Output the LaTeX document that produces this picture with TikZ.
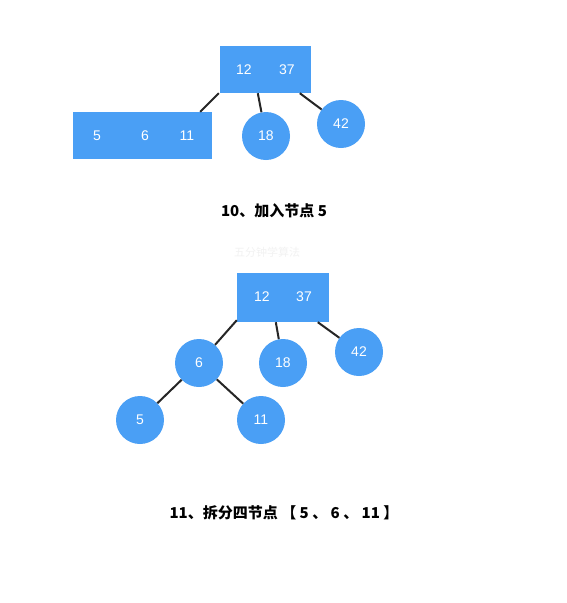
\documentclass[tikz,border=0pt]{standalone}
\usepackage{fontspec}
\setmainfont{Liberation Sans}
\newfontfamily\cjk{Noto Sans CJK SC}
\usetikzlibrary{calc}
\definecolor{nodeblue}{RGB}{74,159,245}
\begin{document}
\begin{tikzpicture}[x=1pt,y=-1pt,
  keybox/.style={fill=nodeblue,draw=none,inner sep=0pt},
  keycirc/.style={circle,fill=nodeblue,draw=none,minimum size=48pt,inner sep=0pt,text=white,font=\fontsize{14}{14}\selectfont},
  keytext/.style={text=white,font=\fontsize{14}{14}\selectfont,inner sep=0pt},
  edge/.style={line width=2pt,draw=black!85},
  caption/.style={font=\cjk\bfseries\fontsize{15}{15}\selectfont,inner sep=0pt},
  wmark/.style={font=\cjk\fontsize{11}{11}\selectfont,text=black!5,inner sep=0pt}]
\useasboundingbox[fill=white] (0,0) rectangle (567,603);
% ---------- step 10 ----------
\node[keybox,minimum width=91pt,minimum height=47pt] (ta) at (265.5,69.5) {};
\node[keytext] (ta1) at (244,70) {12};
\node[keytext] (ta2) at (287,70) {37};
\node[keybox,minimum width=139pt,minimum height=47pt] (tb) at (142.5,135.5) {};
\node[keytext] (tb1) at (97,136) {5};
\node[keytext] (tb2) at (145,136) {6};
\node[keytext] (tb3) at (187,136) {11};
\node[keycirc] (t18) at (266,136) {18};
\node[keycirc] (t42) at (341,124) {42};
\coordinate (tap) at ($(ta.south west)+(-1,0)$);
\coordinate (tbp) at ($(tb.north east)+(-12,0)$);
\coordinate (taq) at ($(ta.south west)+(38,0)$);
\coordinate (tar) at ($(ta.south west)+(80,0)$);
\draw[edge] (tap) -- (tbp);
\draw[edge] (taq) -- (t18);
\draw[edge] (tar) -- (t42);
\node[caption] (cap1) at (274,211) {10、加入节点 5};
\node[wmark] (wm) at (267,252) {五分钟学算法};
% ---------- step 11 ----------
\node[keybox,minimum width=92pt,minimum height=49pt] (ba) at (283,297.5) {};
\node[keytext] (ba1) at (262,297) {12};
\node[keytext] (ba2) at (304,297) {37};
\node[keycirc] (b6) at (199,363) {6};
\node[keycirc] (b18) at (283,363) {18};
\node[keycirc] (b42) at (359,352) {42};
\node[keycirc] (b5) at (140,420) {5};
\node[keycirc] (b11) at (261,420) {11};
\coordinate (bap) at ($(ba.south west)+(0,-2)$);
\coordinate (baq) at ($(ba.south west)+(39,0)$);
\coordinate (bar) at ($(ba.south west)+(81,0)$);
\draw[edge] (bap) -- (b6);
\draw[edge] (baq) -- (b18);
\draw[edge] (bar) -- (b42);
\draw[edge] (b6) -- (b5);
\draw[edge] (b6) -- (b11);
\node[caption] (cap2) at (284,513) {11、拆分四节点 【 5 、 6 、 11 】};
\end{tikzpicture}
\end{document}
